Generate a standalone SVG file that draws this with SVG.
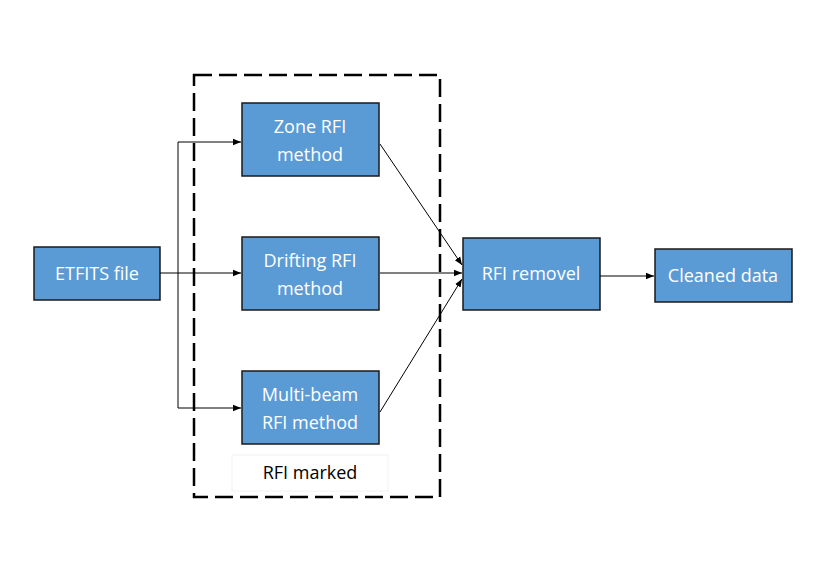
<svg xmlns="http://www.w3.org/2000/svg" width="830" height="587" viewBox="0 0 830 587">
<style>
.n{fill:#5b9bd5;stroke:#1a1a1a;stroke-width:1.5}
.t{font-family:"Open Sans",sans-serif;font-size:18px;fill:#fff;text-anchor:middle}
.c{stroke:#000;stroke-width:1;fill:none}
</style>
<defs><marker id="a" viewBox="0 0 10 10" refX="10" refY="5" markerWidth="8" markerHeight="8" orient="auto"><path d="M0,1 L10,5 L0,9 z" fill="#000"/></marker></defs>
<rect width="830" height="587" fill="#fff"/>
<g id="group"><rect x="194" y="75" width="246" height="422" fill="none" stroke="#000" stroke-width="2.5" stroke-dasharray="18,7"/>
<rect x="232" y="455" width="156" height="36" fill="#fff" stroke="#f2f2f2"/>
<text x="310" y="479" style="font-family:'Open Sans',sans-serif;font-size:18px;text-anchor:middle">RFI marked</text></g>
<g id="etfits"><rect class="n" x="34" y="247" width="126" height="53"/><text class="t" x="97" y="280">ETFITS file</text></g>
<g id="zone"><rect class="n" x="242" y="103" width="137" height="73"/><text class="t" x="310" y="133">Zone RFI</text><text class="t" x="310" y="161">method</text></g>
<g id="drift"><rect class="n" x="242" y="237" width="137" height="73"/><text class="t" x="310" y="267">Drifting RFI</text><text class="t" x="310" y="295">method</text></g>
<g id="multi"><rect class="n" x="242" y="371" width="137" height="73"/><text class="t" x="310" y="401">Multi-beam</text><text class="t" x="310" y="429">RFI method</text></g>
<g id="remove"><rect class="n" x="463" y="238" width="137" height="72"/><text class="t" x="531" y="280">RFI removel</text></g>
<g id="clean"><rect class="n" x="655" y="249" width="137" height="53"/><text class="t" x="723" y="282">Cleaned data</text></g>
<g id="connectors">
<path class="c" d="M160,273 H241" marker-end="url(#a)"/>
<path class="c" d="M178,273 V142 H241" marker-end="url(#a)"/>
<path class="c" d="M178,273 V408 H241" marker-end="url(#a)"/>
<path class="c" d="M380,144 L462,265" marker-end="url(#a)"/>
<path class="c" d="M380,273 H462" marker-end="url(#a)"/>
<path class="c" d="M380,412 L462,279" marker-end="url(#a)"/>
<path class="c" d="M600,276 H654" marker-end="url(#a)"/>
</g>
</svg>
